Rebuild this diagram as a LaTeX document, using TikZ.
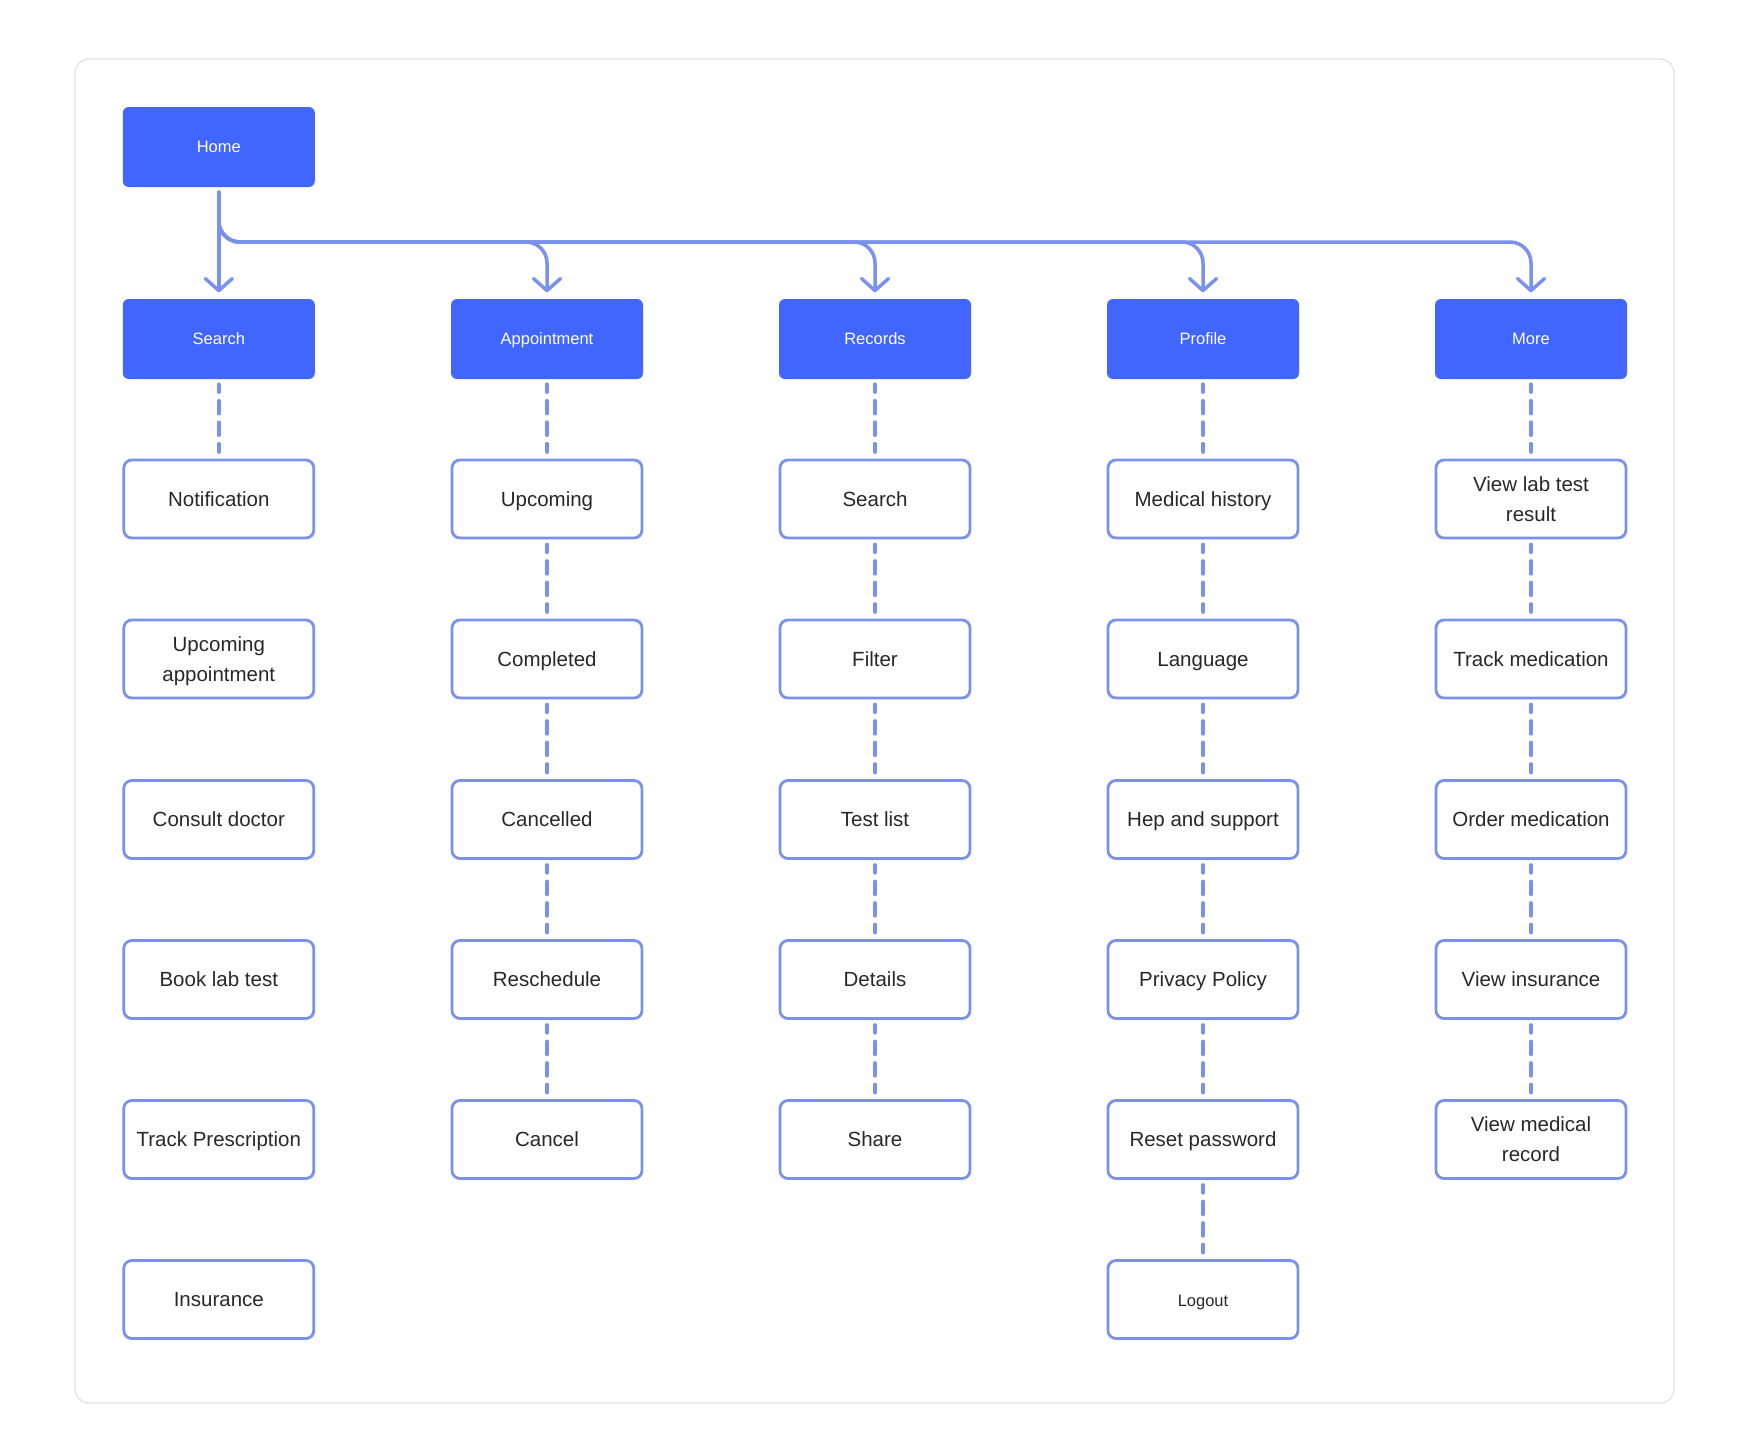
\documentclass[tikz,border=0pt]{standalone}
\usepackage{fontspec}
\setmainfont{Liberation Sans}
\usetikzlibrary{arrows.meta}
\definecolor{blueF}{RGB}{65,102,255}
\definecolor{lineC}{RGB}{122,146,238}
\definecolor{textC}{RGB}{40,40,40}
\definecolor{frameC}{RGB}{226,226,226}
\newcommand{\bigstr}{\rule[-7.65pt]{0pt}{30pt}}
\newcommand{\smallstr}{\rule[-4.1pt]{0pt}{20pt}}
\tikzset{
  topbox/.style={fill=blueF, rounded corners=6pt, minimum width=192pt, minimum height=80pt,
    text=white, font=\fontsize{16.5}{20}\selectfont, inner sep=0pt,
    execute at begin node=\smallstr},
  itembox/.style={draw=lineC, line width=2.8pt, fill=white, rounded corners=8pt,
    minimum width=190pt, minimum height=78pt, text=textC,
    font=\fontsize{20.5}{30}\selectfont, align=center, inner sep=0pt,
    execute at end node=\bigstr},
  smalltext/.style={font=\fontsize{16.5}{20}\selectfont,
    execute at end node=\smallstr},
  conn/.style={draw=lineC, line width=3.5pt, line cap=round, line join=round},
  dashconn/.style={draw=lineC, line width=3.5pt, line cap=round, dash pattern=on 13pt off 8.5pt, dash phase=5pt},
  tip/.style={-{Straight Barb[length=12pt,width=27pt,round]}}
}
\begin{document}
\begin{tikzpicture}[x=1pt,y=-1pt]
\useasboundingbox (0,0) rectangle (1750,1446);
\fill[white] (0,0) rectangle (1750,1446);
\draw[frameC, line width=1.3pt, rounded corners=14pt] (75,59) rectangle (1674,1403);

% top level
\node[topbox] (home) at (218.8,147) {Home};
\node[topbox] (search) at (218.8,339) {Search};
\node[topbox] (appt) at (547,339) {Appointment};
\node[topbox] (records) at (875,339) {Records};
\node[topbox] (profile) at (1203,339) {Profile};
\node[topbox] (more) at (1531,339) {More};

% column 1
\node[itembox] (s1) at (218.8,499) {Notification};
\node[itembox] (s2) at (218.8,659) {\bigstr Upcoming\\appointment};
\node[itembox] (s3) at (218.8,819.5) {Consult doctor};
\node[itembox] (s4) at (218.8,979.5) {Book lab test};
\node[itembox] (s5) at (218.8,1139.5) {Track Prescription};
\node[itembox] (s6) at (218.8,1299.5) {Insurance};

% column 2
\node[itembox] (a1) at (547,499) {Upcoming};
\node[itembox] (a2) at (547,659) {Completed};
\node[itembox] (a3) at (547,819.5) {Cancelled};
\node[itembox] (a4) at (547,979.5) {Reschedule};
\node[itembox] (a5) at (547,1139.5) {Cancel};

% column 3
\node[itembox] (r1) at (875,499) {Search};
\node[itembox] (r2) at (875,659) {Filter};
\node[itembox] (r3) at (875,819.5) {Test list};
\node[itembox] (r4) at (875,979.5) {Details};
\node[itembox] (r5) at (875,1139.5) {Share};

% column 4
\node[itembox] (p1) at (1203,499) {Medical history};
\node[itembox] (p2) at (1203,659) {Language};
\node[itembox] (p3) at (1203,819.5) {Hep and support};
\node[itembox] (p4) at (1203,979.5) {Privacy Policy};
\node[itembox] (p5) at (1203,1139.5) {Reset password};
\node[itembox, smalltext] (p6) at (1203,1299.5) {Logout};

% column 5
\node[itembox] (m1) at (1531,499) {\bigstr View lab test\\result};
\node[itembox] (m2) at (1531,659) {Track medication};
\node[itembox] (m3) at (1531,819.5) {Order medication};
\node[itembox] (m4) at (1531,979.5) {View insurance};
\node[itembox] (m5) at (1531,1139.5) {\bigstr View medical\\record};

% bus connectors
\coordinate (bus) at (0,242);
\draw[conn, tip] ([yshift=-5pt]home.south) -- ([yshift=6.5pt]search.north);
\foreach \t in {appt,records,profile,more}{
  \draw[conn, tip, rounded corners=21pt] ([yshift=-5pt]home.south) -- (home.south |- bus) -- (\t.north |- bus) -- ([yshift=6.5pt]\t.north);
}

% dashed connectors
\foreach \a/\b in {search/s1,
  appt/a1,a1/a2,a2/a3,a3/a4,a4/a5,
  records/r1,r1/r2,r2/r3,r3/r4,r4/r5,
  profile/p1,p1/p2,p2/p3,p3/p4,p4/p5,p5/p6,
  more/m1,m1/m2,m2/m3,m3/m4,m4/m5}{
  \draw[dashconn] ([yshift=-5pt]\a.south) -- ([yshift=6.5pt]\b.north);
}
\end{tikzpicture}
\end{document}
